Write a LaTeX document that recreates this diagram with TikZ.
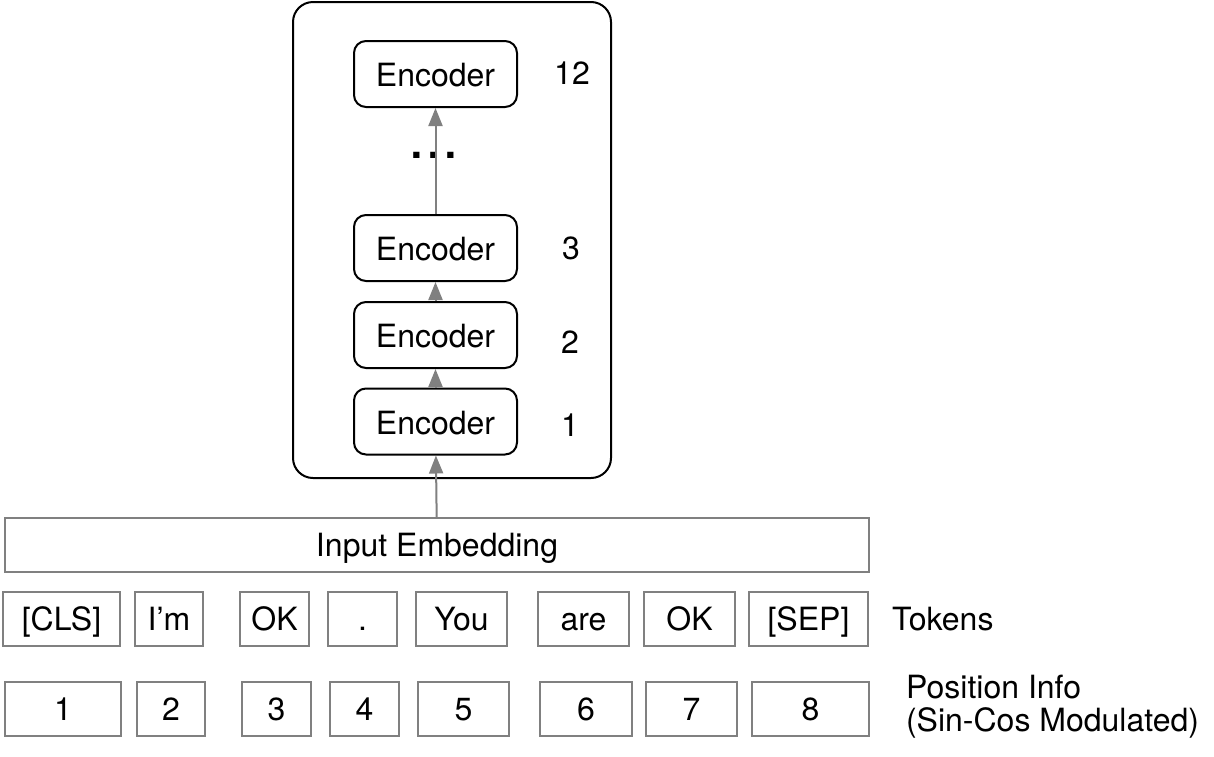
\documentclass[tikz,border=0pt]{standalone}
\usepackage{fontspec}
\setmainfont{TeX Gyre Heros}
\usetikzlibrary{arrows.meta}

\begin{document}
\begin{tikzpicture}[x=0.5pt,y=-0.5pt,
  font=\fontsize{16}{19}\selectfont,
  enc/.style={draw,line width=1pt,rounded corners=6pt,minimum width=81.5pt,minimum height=33pt,inner sep=0pt,text height=12.5pt,text depth=0pt},
  tok/.style={draw=gray,line width=1pt,minimum height=27pt,inner sep=0pt,text height=13pt,text depth=1.5pt},
  up/.style={draw=gray,line width=1pt,-{Triangle[width=7pt,length=9pt]}}]
\useasboundingbox (0,0) rectangle (1214,756);

% encoder stack
\node[draw,line width=1pt,rounded corners=10pt,minimum width=159pt,minimum height=238pt] at (452,240) (stack) {};
\node[enc] at (435.5,74) (E12) {Encoder};
\node[enc] at (435.5,248) (E3) {Encoder};
\node[enc] at (435.5,335) (E2) {Encoder};
\node[enc] at (435.5,421.5) (E1) {Encoder};
\node at (572,73) (n12) {12};
\node at (571,248) (n3) {3};
\node at (570,342) (n2) {2};
\node at (570,425) (n1) {1};
\node[font=\fontsize{30}{30}\selectfont] at (434,155) (dots) {...};

% input
\node[tok,minimum width=432pt] at (437,545) (IE) {Input Embedding};

\node[tok,minimum width=58.5pt] at (61.5,619) (T1) {[CLS]};
\node[tok,minimum width=34pt] at (169,619) (T2) {I’m};
\node[tok,minimum width=34.5pt] at (274.5,619) (T3) {OK};
\node[tok,minimum width=34.5pt] at (362.5,619) (T4) {.};
\node[tok,minimum width=45.5pt] at (461.5,619) (T5) {You};
\node[tok,minimum width=45.5pt] at (583.5,619) (T6) {are};
\node[tok,minimum width=45.5pt] at (689.5,619) (T7) {OK};
\node[tok,minimum width=59.5pt] at (808.5,619) (T8) {[SEP]};
\node[anchor=west] at (885,619) (tokens) {Tokens};

\node[tok,minimum width=58pt] at (63,709) (P1) {1};
\node[tok,minimum width=34pt] at (171,709) (P2) {2};
\node[tok,minimum width=34.5pt] at (276.5,709) (P3) {3};
\node[tok,minimum width=34.5pt] at (364.5,709) (P4) {4};
\node[tok,minimum width=45.5pt] at (463.5,709) (P5) {5};
\node[tok,minimum width=46pt] at (586,709) (P6) {6};
\node[tok,minimum width=45.5pt] at (691.5,709) (P7) {7};
\node[tok,minimum width=58.5pt] at (810.5,709) (P8) {8};
\node[anchor=west,align=left,font=\fontsize{16}{16.5}\selectfont] at (899,707) (posinfo) {Position Info\\(Sin-Cos Modulated)};

\draw[up] (IE) to (E1);
\draw[up] (E1) to (E2);
\draw[up] (E2) to (E3);
\draw[up] (E3) to (E12);
\end{tikzpicture}
\end{document}
